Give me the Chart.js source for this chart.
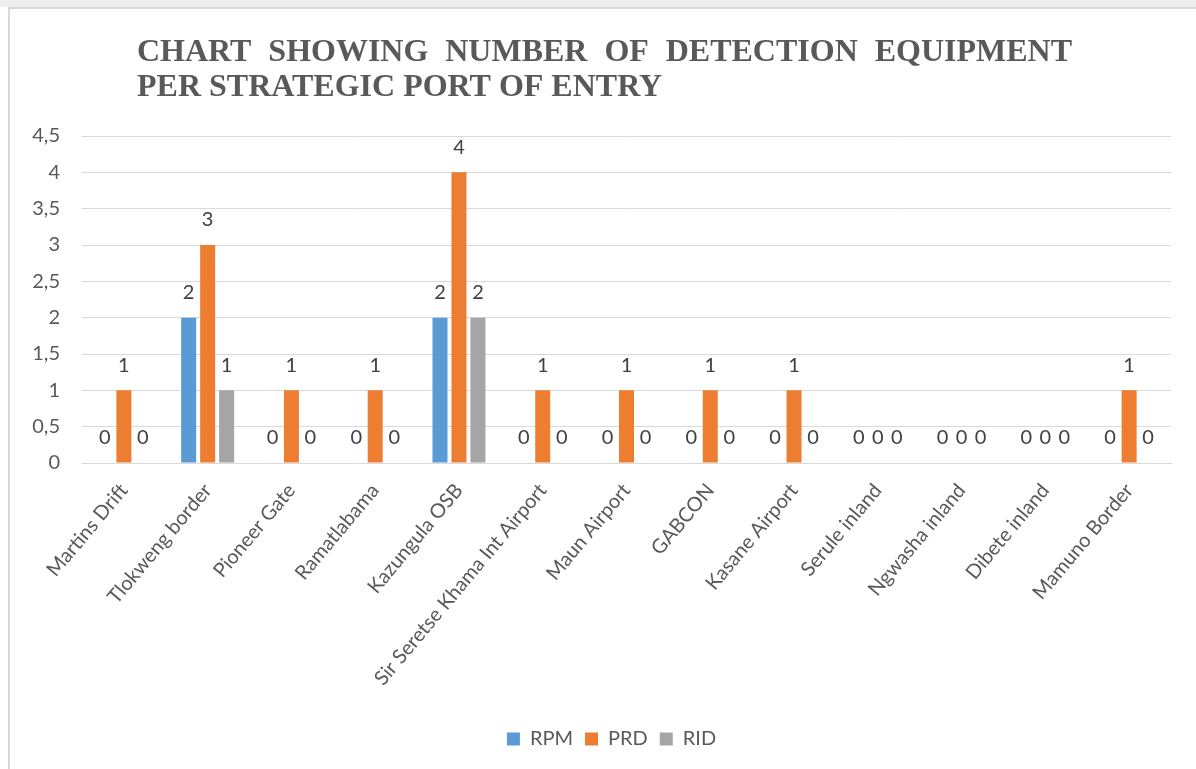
<!DOCTYPE html>
<html>
<head>
<meta charset="utf-8">
<script src="https://cdn.jsdelivr.net/npm/chart.js@4/dist/chart.umd.min.js"></script>
<style>
  html, body { margin: 0; padding: 0; background: #ffffff; }
  #wrap { position: relative; width: 1196px; height: 769px; }
</style>
</head>
<body>
<div id="wrap"><canvas id="equipChart" width="1196" height="769"></canvas></div>
<script>
var categories = ['Martins Drift', 'Tlokweng border', 'Pioneer Gate', 'Ramatlabama', 'Kazungula OSB',
    'Sir Seretse Khama Int Airport', 'Maun Airport', 'GABCON', 'Kasane Airport', 'Serule inland',
    'Ngwasha inland', 'Dibete inland', 'Mamuno Border'];
var rpmValues = [0, 2, 0, 0, 2, 0, 0, 0, 0, 0, 0, 0, 0];
var prdValues = [1, 3, 1, 1, 4, 1, 1, 1, 1, 0, 0, 0, 1];
var ridValues = [0, 1, 0, 0, 2, 0, 0, 0, 0, 0, 0, 0, 0];
var titleLine1 = ['CHART', 'SHOWING', 'NUMBER', 'OF', 'DETECTION', 'EQUIPMENT'];
var titleLine2 = 'PER STRATEGIC PORT OF ENTRY';

var textGray = '#595959';

// frame + justified title (Excel style)
var framePlugin = {
    id: 'frame',
    afterLayout: function (chart) {
        // legend sits a bit right of centre in the original
        chart.legend.left += 21;
        chart.legend.right += 21;
    },
    beforeDraw: function (chart) {
        var c = chart.ctx;
        c.save();
        c.fillStyle = '#eeeeee';
        c.fillRect(0, 0, chart.width, 7);
        c.strokeStyle = '#d9d9d9';
        c.lineWidth = 2;
        c.beginPath();
        c.moveTo(9, chart.height);
        c.lineTo(9, 8);
        c.lineTo(chart.width, 8);
        c.stroke();
        c.restore();
    },
    afterDraw: function (chart) {
        var c = chart.ctx;
        c.save();
        c.fillStyle = textGray;
        c.font = 'bold 32px "Liberation Serif"';
        c.textBaseline = 'alphabetic';
        var left = 137, right = 1072;
        var total = 0;
        titleLine1.forEach(function (w) { total += c.measureText(w).width; });
        var gap = (right - left - total) / (titleLine1.length - 1);
        var x = left;
        titleLine1.forEach(function (w) {
            c.fillText(w, x, 61);
            x += c.measureText(w).width + gap;
        });
        c.fillText(titleLine2, left, 96);
        c.restore();
    }
};

// values above the bars
var valueLabels = {
    id: 'valueLabels',
    afterDatasetsDraw: function (chart) {
        var c = chart.ctx;
        c.save();
        c.font = '20px Lato';
        c.fillStyle = '#404040';
        c.textAlign = 'center';
        c.textBaseline = 'bottom';
        chart.data.datasets.forEach(function (ds, i) {
            var meta = chart.getDatasetMeta(i);
            meta.data.forEach(function (bar, j) {
                c.fillText(String(ds.data[j]), bar.x, bar.y - 15);
            });
        });
        c.restore();
    }
};

var ctx = document.getElementById('equipChart').getContext('2d');
var chart = new Chart(ctx, {
    type: 'bar',
    data: {
        labels: categories,
        datasets: [
            { label: 'RPM', data: rpmValues, backgroundColor: '#5b9bd5' },
            { label: 'PRD', data: prdValues, backgroundColor: '#ed7d31' },
            { label: 'RID', data: ridValues, backgroundColor: '#a5a5a5' }
        ]
    },
    options: {
        responsive: false,
        animation: false,
        devicePixelRatio: 1,
        categoryPercentage: 0.68,
        barPercentage: 0.79,
        layout: {
            padding: { top: 136, left: 10, right: 25, bottom: 10 }
        },
        scales: {
            x: {
                grid: { display: false },
                border: { display: true, color: '#d9d9d9', width: 1 },
                afterFit: function (scale) { scale.height = 254; },
                ticks: {
                    color: textGray,
                    font: { family: 'Lato', size: 20 },
                    minRotation: 50,
                    maxRotation: 50,
                    padding: 8,
                    labelOffset: 0,
                    autoSkip: false
                }
            },
            y: {
                min: 0,
                max: 4.5,
                grid: { color: '#d9d9d9', drawTicks: false },
                border: { display: false },
                afterFit: function (scale) { scale.width = 72; },
                ticks: {
                    stepSize: 0.5,
                    padding: 22,
                    color: textGray,
                    font: { family: 'Lato', size: 20 },
                    callback: function (value) {
                        return value.toString().replace('.', ',');
                    }
                }
            }
        },
        plugins: {
            legend: {
                display: true,
                position: 'bottom',
                labels: {
                    color: textGray,
                    font: { family: 'Lato', size: 20 },
                    boxWidth: 13,
                    boxHeight: 13,
                    padding: 12
                }
            },
            tooltip: { enabled: false }
        }
    },
    plugins: [framePlugin, valueLabels]
});
</script>
</body>
</html>
